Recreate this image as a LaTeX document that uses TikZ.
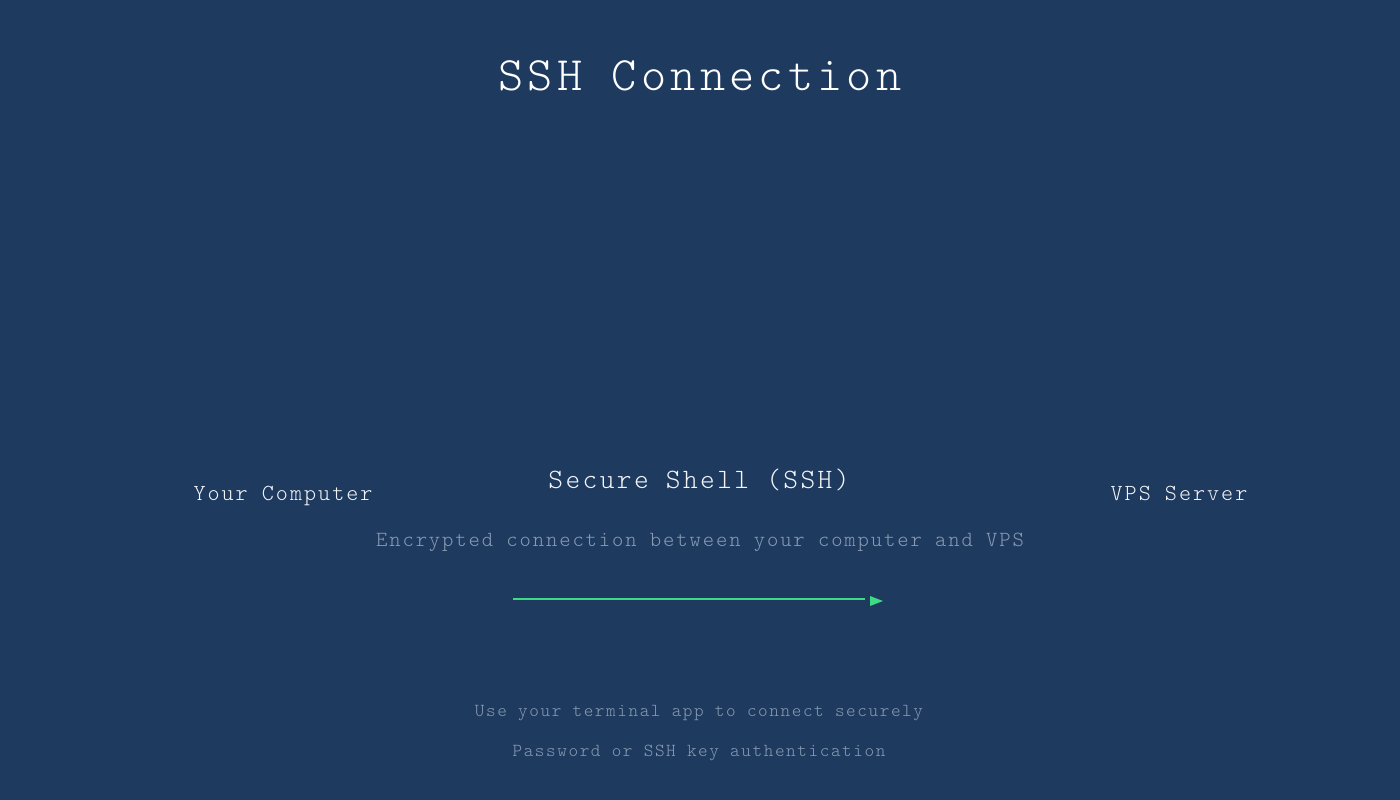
\documentclass[tikz,border=0pt]{standalone}
\usepackage{fontspec}
\setmainfont[LetterSpace=8.7]{Latin Modern Mono Light}
\usetikzlibrary{positioning}
\definecolor{sshbg}{HTML}{1E3A5F}
\definecolor{labelwhite}{HTML}{F2F4F7}
\definecolor{mutedgray}{HTML}{889BB3}
\definecolor{linkgreen}{HTML}{3DDC84}
\newcommand{\fs}[1]{\fontsize{#1}{#1}\selectfont}

\begin{document}
\begin{tikzpicture}[x=1pt, y=-1pt,
  txt/.style={anchor=base, inner sep=0pt, text=labelwhite},
  note/.style={anchor=base, inner sep=0pt, text=mutedgray}]
\fill[sshbg] (0,0) rectangle (1400,800);
\useasboundingbox (0,0) rectangle (1400,800);

\node[txt, text=white, font=\fs{48}] (title) at (700,91) {SSH Connection};

\node[txt, font=\fs{23}] (client) at (283,500) {Your Computer};
\node[txt, font=\fs{28}] (proto) at (699,488) {Secure Shell (SSH)};
\node[txt, font=\fs{23}] (server) at (1179,500) {VPS Server};
\node[note, font=\fs{21.6}] (desc) at (700,546) {Encrypted connection between your computer and VPS};

% arrow
\coordinate (linkstart) at (513,599);
\coordinate (linkend) at (865,599);
\coordinate (tip) at (870,601);
\draw[linkgreen, line width=1.5pt] (linkstart) -- (linkend);
\fill[linkgreen] (tip) ++(0,-5) -- ++(13,5) -- ++(-13,5) -- cycle;

\node[note, font=\fs{18.3}] (hint) at (699,716) {Use your terminal app to connect securely};
\node[note, font=\fs{18.3}] (auth) at (699,756) {Password or SSH key authentication};
\end{tikzpicture}
\end{document}
